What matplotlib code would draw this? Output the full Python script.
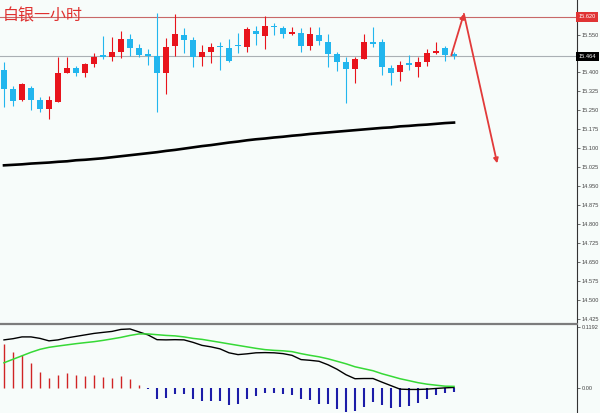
import matplotlib
matplotlib.use('Agg')
import matplotlib.pyplot as plt
import matplotlib.transforms as mtransforms
import numpy as np

# ---- hourly silver candles ----
opens = [15.410, 15.336, 15.291, 15.339, 15.291, 15.257, 15.282, 15.399, 15.417, 15.399,
         15.432, 15.468, 15.462, 15.480, 15.531, 15.496, 15.472, 15.466, 15.399, 15.505,
         15.547, 15.528, 15.462, 15.480, 15.506, 15.498, 15.509, 15.502, 15.565, 15.545,
         15.584, 15.575, 15.552, 15.557, 15.506, 15.548, 15.519, 15.472, 15.440, 15.413,
         15.453, 15.519, 15.522, 15.419, 15.403, 15.436, 15.423, 15.443, 15.476, 15.498,
         15.472]
highs = [15.443, 15.347, 15.358, 15.347, 15.303, 15.307, 15.462, 15.462, 15.426, 15.438,
         15.478, 15.544, 15.541, 15.563, 15.552, 15.511, 15.492, 15.634, 15.535, 15.631,
         15.575, 15.541, 15.509, 15.515, 15.522, 15.531, 15.557, 15.579, 15.584, 15.623,
         15.594, 15.584, 15.581, 15.575, 15.579, 15.581, 15.551, 15.482, 15.460, 15.462,
         15.552, 15.579, 15.531, 15.430, 15.447, 15.469, 15.462, 15.492, 15.522, 15.505,
         15.482]
lows = [15.265, 15.269, 15.289, 15.252, 15.245, 15.215, 15.282, 15.398, 15.386, 15.383,
        15.422, 15.452, 15.447, 15.456, 15.465, 15.462, 15.430, 15.245, 15.315, 15.465,
        15.478, 15.421, 15.426, 15.436, 15.410, 15.443, 15.476, 15.482, 15.509, 15.492,
        15.548, 15.535, 15.549, 15.482, 15.489, 15.509, 15.421, 15.407, 15.278, 15.357,
        15.452, 15.502, 15.390, 15.351, 15.366, 15.410, 15.383, 15.426, 15.473, 15.447,
        15.452]
closes = [15.335, 15.289, 15.353, 15.291, 15.257, 15.291, 15.399, 15.417, 15.399, 15.432,
          15.462, 15.460, 15.480, 15.532, 15.498, 15.469, 15.466, 15.399, 15.502, 15.552,
          15.528, 15.462, 15.482, 15.502, 15.500, 15.445, 15.505, 15.571, 15.552, 15.585,
          15.580, 15.552, 15.559, 15.505, 15.552, 15.526, 15.472, 15.441, 15.413, 15.453,
          15.519, 15.511, 15.421, 15.399, 15.430, 15.428, 15.443, 15.476, 15.486, 15.469,
          15.464]
# long moving average
ma_long = [15.033, 15.035, 15.037, 15.040, 15.042, 15.044, 15.047, 15.049, 15.053, 15.055,
           15.058, 15.061, 15.065, 15.069, 15.073, 15.077, 15.081, 15.085, 15.090, 15.094,
           15.099, 15.104, 15.109, 15.113, 15.118, 15.123, 15.127, 15.132, 15.136, 15.139,
           15.143, 15.146, 15.150, 15.153, 15.157, 15.160, 15.163, 15.166, 15.169, 15.172,
           15.175, 15.178, 15.181, 15.183, 15.187, 15.189, 15.192, 15.194, 15.197, 15.200,
           15.202]

# ---- MACD ----
dif = [0.0935, 0.0958, 0.0993, 0.0993, 0.0964, 0.0916, 0.0935, 0.0974, 0.1003, 0.1032,
       0.1061, 0.1081, 0.1100, 0.1139, 0.1148, 0.1090, 0.1032, 0.0939, 0.0935, 0.0939,
       0.0935, 0.0887, 0.0828, 0.0799, 0.0760, 0.0683, 0.0648, 0.0663, 0.0683, 0.0687,
       0.0683, 0.0667, 0.0634, 0.0551, 0.0537, 0.0518, 0.0450, 0.0363, 0.0256, 0.0178,
       0.0182, 0.0182, 0.0111, 0.0043, -0.0025, -0.0031, -0.0031, -0.0025, -0.0012, 0.0000,
       0.0008]
dea = [0.0489, 0.0557, 0.0625, 0.0693, 0.0751, 0.0790, 0.0815, 0.0838, 0.0861, 0.0881,
       0.0900, 0.0925, 0.0954, 0.0984, 0.1022, 0.1051, 0.1051, 0.1036, 0.1022, 0.1013,
       0.0993, 0.0964, 0.0945, 0.0916, 0.0887, 0.0857, 0.0828, 0.0799, 0.0770, 0.0745,
       0.0731, 0.0722, 0.0706, 0.0667, 0.0634, 0.0605, 0.0566, 0.0518, 0.0469, 0.0411,
       0.0372, 0.0334, 0.0275, 0.0227, 0.0178, 0.0140, 0.0101, 0.0072, 0.0052, 0.0033,
       0.0029]
hist = [0.0860, 0.0700, 0.0650, 0.0485, 0.0310, 0.0194, 0.0246, 0.0280, 0.0246, 0.0233,
        0.0246, 0.0213, 0.0200, 0.0227, 0.0163, 0.0058, -0.0019, -0.0208, -0.0188, -0.0110,
        -0.0110, -0.0208, -0.0252, -0.0252, -0.0252, -0.0336, -0.0316, -0.0208, -0.0161, -0.0097,
        -0.0097, -0.0110, -0.0142, -0.0208, -0.0227, -0.0305, -0.0324, -0.0421, -0.0466, -0.0452,
        -0.0369, -0.0272, -0.0336, -0.0402, -0.0369, -0.0355, -0.0291, -0.0208, -0.0142, -0.0097,
        -0.0078]

resistance = 15.620
last_price = 15.464
price_ticks = [14.425, 14.500, 14.575, 14.650, 14.725, 14.800, 14.875, 14.950, 15.025,
               15.100, 15.175, 15.250, 15.325, 15.400, 15.475, 15.550, 15.625]
# projected path: up to resistance, then down
path_x = [49.7, 51.1, 54.8]
path_y = [15.468, 15.632, 15.041]

UP = '#e8141c'
DOWN = '#22b6ee'
BG = '#f7fcfa'
SCALE_FONT = dict(family='Liberation Sans', size=4.1)

fig = plt.figure(figsize=(6, 4.13), dpi=100, facecolor=BG)
ax = fig.add_axes([0, 1 - 322 / 413, 577 / 600, 322 / 413], facecolor=BG)
ax2 = fig.add_axes([0, 0, 577 / 600, 88 / 413], facecolor=BG)

x = np.arange(len(closes))
o = np.array(opens)
c = np.array(closes)
colors = [UP if cc >= oo else DOWN for oo, cc in zip(o, c)]
colors[-1] = DOWN

# wicks and bodies
ax.vlines(x, lows, highs, colors=colors, lw=0.8, zorder=3)
body_lo = np.minimum(o, c)
body_h = np.maximum(np.abs(c - o), 0.003)
ax.bar(x, body_h, bottom=body_lo, width=0.58, color=colors, linewidth=0, zorder=4)

ax.plot(x, ma_long, color='black', lw=1.9, zorder=3)

ax.axhline(resistance, color='#c86868', lw=0.8, zorder=1)
ax.axhline(last_price, color='#aab0b4', lw=0.8, zorder=1)

# projection arrows
for i in range(2):
    ax.annotate('', xy=(path_x[i + 1], path_y[i + 1]), xytext=(path_x[i], path_y[i]),
                arrowprops=dict(arrowstyle='-|>', color='#e23a3a', lw=1.3,
                                mutation_scale=7, shrinkA=0, shrinkB=0),
                zorder=5)

xmin = -4 / 9
ax.set_xlim(xmin, xmin + 577 / 9)
ax.set_ylim(15.6865 - 322 / 253, 15.6865)

for a in (ax, ax2):
    for s in ('top', 'left', 'bottom'):
        a.spines[s].set_visible(False)
    a.spines['right'].set_color('#333333')
    a.spines['right'].set_linewidth(0.8)
    a.set_xticks([])
    a.yaxis.tick_right()
    a.tick_params(axis='y', length=2, width=0.5, pad=1.2,
                  colors='#333333', labelcolor='#444444')

# the price boxes sit over the 15.625 and 15.475 marks
ax.set_yticks(price_ticks)
ax.set_yticklabels(['' if v in (15.625, 15.475) else f'{v:.3f}' for v in price_ticks],
                   fontdict=SCALE_FONT)

# price boxes on the right scale
tr = mtransforms.blended_transform_factory(ax.transAxes, ax.transData)
for level, face in ((resistance, '#e03434'), (last_price, 'black')):
    ax.text(1.003, level, f'{level:.3f}', transform=tr, color='white',
            va='center', ha='left', zorder=10, fontdict=SCALE_FONT,
            bbox=dict(boxstyle='square,pad=0.4', facecolor=face, edgecolor='none'))

# ---- MACD panel ----
h = np.array(hist)
ax2.vlines(x[h >= 0], 0, h[h >= 0], colors='#d02424', lw=1.0)
ax2.vlines(x[h < 0], 0, h[h < 0], colors='#1c1ca8', lw=1.5)
ax2.plot(x, dif, color='black', lw=1.0)
ax2.plot(x, dea, color='#36d936', lw=1.1)
ax2.set_xlim(xmin, xmin + 577 / 9)
ax2.set_ylim(-0.049, 0.1225)
ax2.set_yticks([0.0, 0.1192])
ax2.set_yticklabels(['0.00', '0.1192'], fontdict=SCALE_FONT)

# panel separator
fig.add_artist(plt.Line2D([0, 577 / 600], [1 - 323.5 / 413] * 2, color='#7c7c7c', lw=1.6))

fig.text(0.004, 1 - 16 / 413, '白银一小时', color='#e0302f', fontsize=11.5, va='center',
         ha='left', family=['Noto Sans CJK SC', 'DejaVu Sans'])

fig.savefig('out.png', dpi=100, facecolor=BG)
